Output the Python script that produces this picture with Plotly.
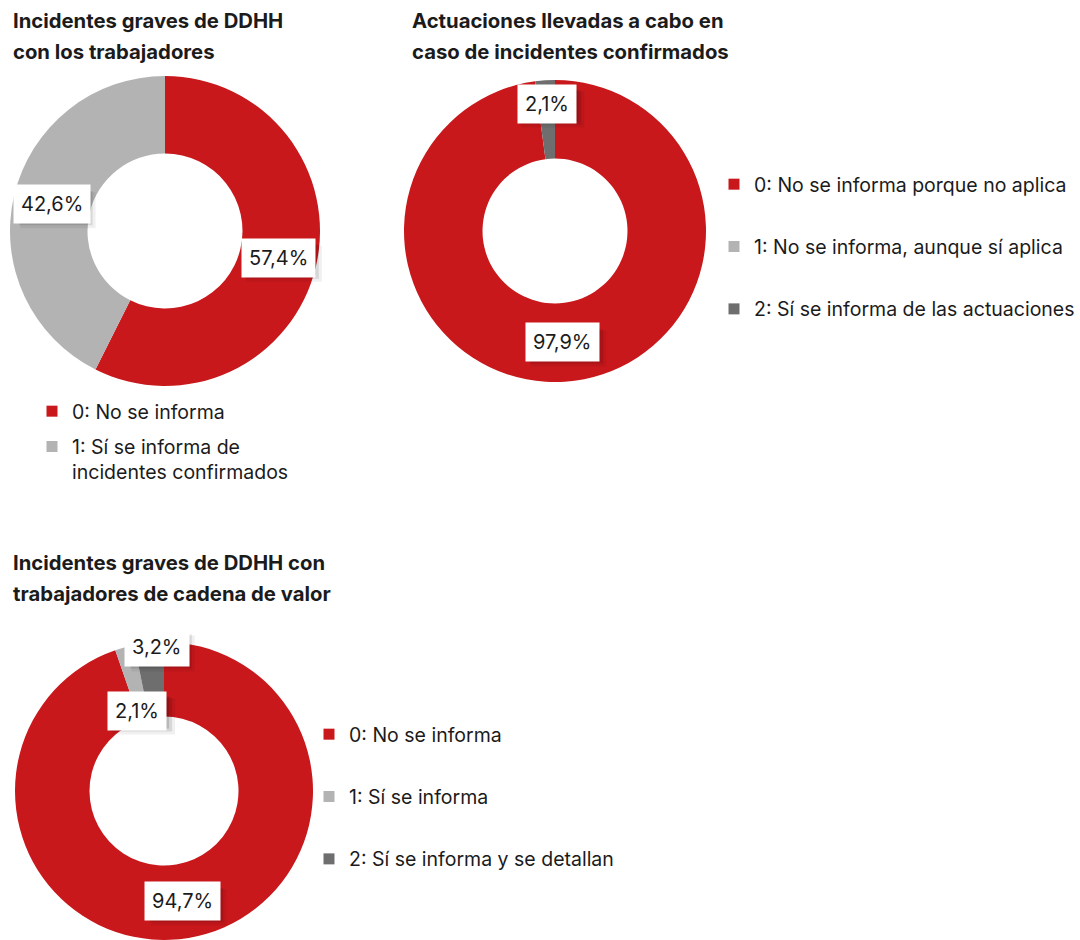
import math
import plotly.graph_objects as go

W, H = 1080, 940

# ---- data ----
titles_1 = ["Incidentes graves de DDHH", "con los trabajadores"]
labels_1 = ["0: No se informa", "1: Sí se informa de<br>incidentes confirmados"]
values_1 = [57.4, 42.6]

titles_2 = ["Actuaciones llevadas a cabo en", "caso de incidentes confirmados"]
labels_2 = ["0: No se informa porque no aplica",
            "1: No se informa, aunque sí aplica",
            "2: Sí se informa de las actuaciones"]
values_2 = [97.9, 0.0, 2.1]

titles_3 = ["Incidentes graves de DDHH con", "trabajadores de cadena de valor"]
labels_3 = ["0: No se informa", "1: Sí se informa", "2: Sí se informa y se detallan"]
values_3 = [94.7, 2.1, 3.2]

RED, LIGHT, DARK = "#C8181C", "#B3B3B3", "#6E6E6E"
colors_2 = [RED, LIGHT, DARK]
FONT = "Inter"
INK = "#1b1b1b"
LABEL_SIZE = 20
PAD = 7

# ---- layout helpers (pixel geometry of each donut) ----
def px_x(x):
    return x / W

def px_y(y):
    return 1 - y / H

charts = [
    # center x, center y, outer radius, hole, label radial nudge / angular shift
    dict(cx=165, cy=231, r=155, hole=0.50, values=values_1, labels=labels_1,
         colors=[RED, LIGHT], nudge=[0, 0], turn=[0, 0], legend="legend"),
    dict(cx=555, cy=231, r=151, hole=0.48, values=values_2, labels=labels_2,
         colors=colors_2, nudge=[0, 0, 16], turn=[0, 0, 0], legend="legend2"),
    dict(cx=164, cy=791, r=149, hole=0.50, values=values_3, labels=labels_3,
         colors=colors_2, nudge=[0, -27, 32], turn=[0, -3, 3], legend="legend3"),
]

fig = go.Figure()
annotations = []
shapes = []

def fmt(v):
    return f"{v:.1f}".replace(".", ",") + "%"

def box_width(txt):
    # approximate rendered width of a percentage label
    w = 0.0
    for ch in txt:
        w += {",": 0.27, "%": 0.9}.get(ch, 0.6) * LABEL_SIZE
    return w + 2 * PAD

for c in charts:
    r = c["r"]
    fig.add_trace(go.Pie(
        values=c["values"], labels=[l.replace("<br>", " ") for l in c["labels"]],
        hole=c["hole"], sort=False, direction="clockwise", rotation=0,
        marker=dict(colors=c["colors"], line=dict(width=0)),
        textinfo="none", hoverinfo="label+percent", showlegend=False,
        domain=dict(x=[px_x(c["cx"] - r), px_x(c["cx"] + r)],
                    y=[px_y(c["cy"] + r), px_y(c["cy"] - r)]),
    ))
    # legend entries, one group each so spacing can be set
    for i, (lab, col) in enumerate(zip(c["labels"], c["colors"])):
        fig.add_trace(go.Scatter(
            x=[None], y=[None], mode="markers", name=lab,
            marker=dict(symbol="square", size=11, color=col, line=dict(width=0)),
            legend=c["legend"], legendgroup=f'{c["legend"]}_{i}', showlegend=True,
        ))
    # value boxes at mid-ring of each slice
    total = sum(c["values"])
    rmid = r * (1 + c["hole"]) / 2
    acc = 0.0
    for v, nd, tn in zip(c["values"], c["nudge"], c["turn"]):
        if v <= 0:
            acc += v
            continue
        mid = (acc + v / 2) / total * 2 * math.pi + math.radians(tn)
        acc += v
        rr = rmid + nd
        lx = c["cx"] + rr * math.sin(mid)
        ly = c["cy"] - rr * math.cos(mid)
        txt = fmt(v)
        # soft drop shadow behind the white box
        hw, hh = box_width(txt) / 2, 17
        for off, grow, a in [(6, 1, 0.06), (4, 0, 0.10), (2, -1, 0.14)]:
            shapes.append(dict(
                type="rect", xref="paper", yref="paper",
                xsizemode="pixel", ysizemode="pixel",
                xanchor=px_x(lx), yanchor=px_y(ly),
                x0=-hw + off - grow, x1=hw + off + grow,
                y0=-hh - off - grow, y1=hh - off + grow,
                fillcolor=f"rgba(0,0,0,{a})", line=dict(width=0), layer="above",
            ))
        annotations.append(dict(x=px_x(lx), y=px_y(ly), xref="paper", yref="paper",
                                xanchor="center", yanchor="middle",
                                showarrow=False, text=txt, borderpad=PAD,
                                bgcolor="white",
                                font=dict(family=FONT, size=LABEL_SIZE, color=INK)))

# titles
for lines, x0, ys in [(titles_1, 11, (21, 52)), (titles_2, 410, (21, 52)),
                      (titles_3, 11, (562, 593))]:
    for t, yy in zip(lines, ys):
        annotations.append(dict(x=px_x(x0), y=px_y(yy), xref="paper", yref="paper",
                                xanchor="left", yanchor="middle", showarrow=False,
                                text=t, font=dict(family=FONT, size=20.3, color=INK, weight=700)))

leg_common = dict(xanchor="left", yanchor="top", valign="top", itemwidth=30,
                  bgcolor="rgba(0,0,0,0)", borderwidth=0, orientation="v",
                  font=dict(family=FONT, size=19.5, color=INK),
                  itemclick=False, itemdoubleclick=False)

fig.update_layout(
    width=W, height=H, margin=dict(l=0, r=0, t=0, b=0),
    paper_bgcolor="white", plot_bgcolor="white",
    xaxis=dict(visible=False), yaxis=dict(visible=False),
    annotations=annotations, shapes=shapes,
    legend=dict(leg_common, x=px_x(32), y=px_y(392), tracegroupgap=7),
    legend2=dict(leg_common, x=px_x(714), y=px_y(165), tracegroupgap=34),
    legend3=dict(leg_common, x=px_x(309), y=px_y(715), tracegroupgap=34),
)

fig.write_html("out.html")
